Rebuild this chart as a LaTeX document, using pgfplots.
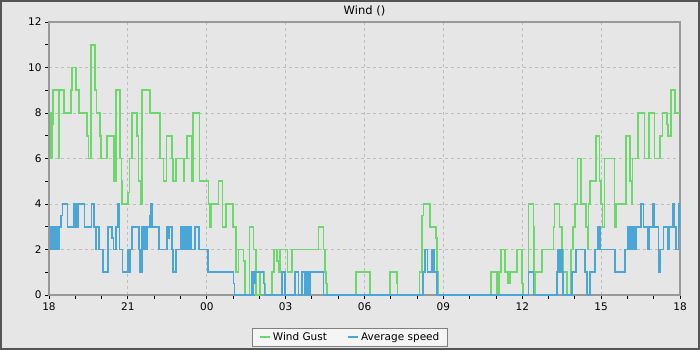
\documentclass[border=0pt]{standalone}
\usepackage{pgfplots}
\pgfplotsset{compat=1.18}
\usepackage{fontspec}
\setmainfont{DejaVu Sans}
\definecolor{bg}{HTML}{E6E6E6}
\definecolor{framec}{HTML}{555555}
\definecolor{axisgray}{HTML}{999999}
\definecolor{gridgray}{HTML}{BDBDBD}
\definecolor{gust}{HTML}{6CD86C}
\definecolor{avg}{HTML}{4AA6D8}
\begin{document}
\begin{tikzpicture}[x=1pt,y=1pt]
\fill[bg] (0,0) rectangle (700,350);
\draw[framec, line width=2pt] (1,1) rectangle (699,349);
\node[font=\fontsize{11.5}{13}\selectfont] at (364.5,339) {Wind ()};
\begin{axis}[
  at={(49pt,55pt)}, anchor=south west,
  scale only axis, width=631pt, height=273pt,
  xmin=0, xmax=24, ymin=0, ymax=12,
  xtick={0,3,...,24}, xticklabels={18,21,00,03,06,09,12,15,18},
  minor xtick={1,2,4,5,7,8,10,11,13,14,16,17,19,20,22,23},
  ytick={0,2,...,12}, minor ytick={1,3,...,11},
  tick align=outside, tick pos=left,
  major tick length=4pt, minor tick length=4pt,
  every tick/.style={black, line width=0.9pt},
  axis line style={axisgray, line width=1.2pt},
  xmajorgrids, ymajorgrids,
  major grid style={gridgray, dashed, line width=0.8pt},
  tick label style={font=\fontsize{10.5}{12}\selectfont},
  /pgf/number format/assume math mode=true,
  legend style={at={(0.477,-0.154)}, anchor=center, fill=white!60!bg, draw=gray,
    font=\fontsize{10.5}{12}\selectfont, legend columns=2, inner xsep=6pt, inner ysep=2.5pt,
    /tikz/every even column/.append style={column sep=18pt}},
  legend image code/.code={\draw[#1, line width=2.2pt] (0pt,0pt) -- (10pt,0pt);},
]
\addplot[const plot, gust, line width=1.6pt] table {
x y
0 8
0.076 6
0.114 7.5
0.152 9
0.354 6
0.380 9
0.571 8
0.837 9
0.886 10
1.027 9
1.141 8
1.434 7
1.495 6
1.586 11
1.750 9
1.814 8
1.940 7
1.978 6
2.195 7
2.472 5
2.548 9
2.701 6
2.758 5
2.777 4
3.005 4.5
3.062 6
3.168 8
3.336 7
3.397 5
3.488 4
3.526 9
3.842 8
4.222 6
4.348 5
4.462 7
4.667 6
4.705 5
4.831 6
5.116 5
5.154 6
5.238 7
5.428 5
5.477 8
5.717 5
6.059 4
6.124 3
6.188 4
6.440 5
6.592 3
6.732 4
6.987 3
7.113 1
7.200 2
7.398 1.5
7.455 0
7.619 3
7.771 2
7.873 0
8.026 1
8.178 0.5
8.216 0
8.471 1
8.558 2
8.661 1.5
8.737 1
8.786 2
9.064 1
9.231 2
10.243 3
10.433 2
10.498 1
10.536 0.5
10.574 0
11.666 1
12.210 0
12.970 1
13.225 0.5
13.248 0
14.085 1
14.176 3.5
14.237 4
14.492 3
14.720 2.5
14.758 1
14.807 0
16.800 1
17.029 0
17.116 1
17.181 2
17.344 1
17.459 0.5
17.535 1
17.789 2
17.980 0.5
18.029 0
18.231 4
18.421 3
18.447 0
18.485 1
18.740 2
19.182 3
19.220 4
19.410 3
19.501 2
19.539 1
19.691 0
19.855 2
19.931 3
20.007 4
20.095 6
20.235 4
20.425 3
20.475 2
20.513 4
20.578 5
20.794 7
20.931 5
20.996 4
21.045 3
21.121 6
21.502 3
21.566 4
21.947 7
22.099 5
22.148 4
22.186 6
22.392 8
22.643 6
22.822 8
23.023 6
23.240 7
23.327 8
23.495 7.5
23.533 7
23.658 9
23.810 8
24 8
};
\addlegendentry{Wind Gust}
\addplot[const plot, avg, line width=1.6pt] table {
x y
0 3
0.057 2
0.095 3
0.114 2
0.152 3
0.190 2
0.228 3
0.255 2
0.293 3
0.316 2
0.342 3
0.369 2
0.392 3
0.456 3.5
0.506 4
0.711 3
0.962 4
1.000 3
1.038 4
1.065 3
1.092 4
1.343 3
1.624 4
1.712 3
1.761 2
1.814 3
1.902 2
2.065 1
2.233 3
2.385 2.5
2.446 2
2.548 3
2.613 4
2.674 2
2.788 1
3.016 2
3.062 1
3.092 2
3.146 3
3.423 2
3.461 1
3.526 3
3.549 2
3.575 3
3.613 2
3.651 3
3.689 2
3.728 3
3.842 3.5
3.880 4
3.918 3
4.184 2
4.477 3
4.538 2.5
4.576 3
4.667 2
4.705 1
4.831 2
5.021 3
5.078 2
5.116 3
5.154 2
5.192 3
5.230 2
5.268 3
5.306 2
5.344 3
5.401 2
5.553 3
5.705 2
6.048 1
7.010 0.5
7.048 0
7.710 1
7.740 0
7.771 1
7.797 0.5
7.835 1
8.151 0.5
8.189 0
8.851 1
8.976 0
9.357 1
9.482 0
9.612 1
9.737 0
9.775 1
9.813 0
9.851 1
9.889 0
9.927 1
10.433 0
14.214 1
14.301 2
14.389 1
14.567 2
14.644 1
14.746 0
18.231 1
18.421 0
19.311 1
19.334 2
19.398 1
19.436 2
19.501 1
19.550 0
19.881 1
20.045 2
20.387 1
20.452 0
20.578 1
20.768 2
20.870 3
20.958 2
21.528 1
21.909 2
22.012 3
22.099 2
22.137 3
22.194 2
22.232 3
22.270 2
22.316 3
22.518 4
22.605 3
22.784 2
22.822 3
22.962 4
23.023 3
23.175 1
23.240 2
23.365 3
23.544 2
23.582 3
23.707 4
23.772 3
23.836 2
23.935 3
23.962 4
24 4
};
\addlegendentry{Average speed}
\end{axis}
\end{tikzpicture}
\end{document}
